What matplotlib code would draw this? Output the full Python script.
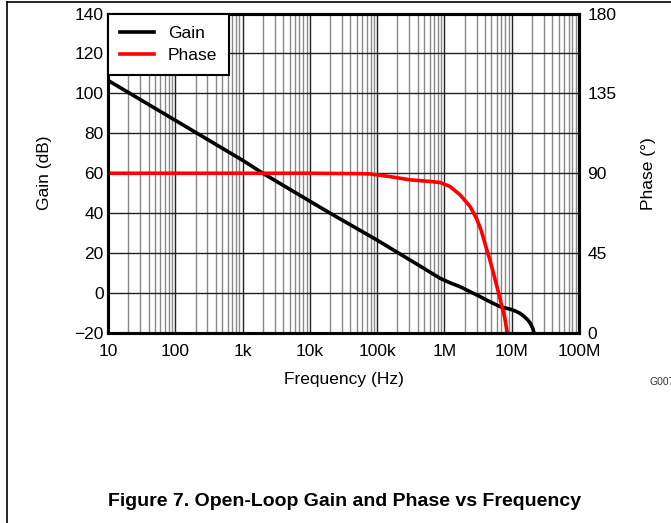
import numpy as np
import matplotlib.pyplot as plt
from matplotlib.lines import Line2D
from matplotlib.ticker import LogLocator, FixedLocator, NullFormatter

plt.rcParams['font.family'] = ['Liberation Sans', 'DejaVu Sans']

# data
gain_freq = [10, 100, 1e3, 2e3, 1e4, 2e4, 1e5, 4.3e5, 8.6e5, 1.2e6, 1.7e6, 2.4e6, 3.4e6, 4.7e6,
             6.7e6, 8e6, 9.6e6, 1.13e7, 1.32e7, 1.5e7, 1.74e7, 1.9e7, 2.06e7, 2.15e7]
gain_db = [106.5, 86.5, 66.5, 60, 46, 40, 26.5, 13.6, 7.4, 5.2, 3.2, 0.7, -1.8, -4.3,
           -6.8, -7.5, -8.1, -9.0, -10.1, -11.5, -13.5, -15.3, -17.7, -20]

phase_freq = [10, 1e4, 5e4, 7.8e4, 1.55e5, 3.06e5, 6e5, 8.6e5, 1.2e6, 1.7e6, 2.4e6, 3e6,
              3.5e6, 4e6, 4.74e6, 5.5e6, 6.3e6, 7e6, 7.9e6, 8.6e6]
phase_deg = [90, 90, 89.8, 89.6, 88.1, 86.3, 85.4, 84.8, 82.6, 77.9, 71.3, 64.5,
             58, 50.5, 41.1, 32, 23.4, 16.5, 8.4, 0]

xticks = [10, 100, 1e3, 1e4, 1e5, 1e6, 1e7, 1e8]
xtick_labels = ['10', '100', '1k', '10k', '100k', '1M', '10M', '100M']
gain_ticks = [-20, 0, 20, 40, 60, 80, 100, 120, 140]
phase_ticks = [0, 45, 90, 135, 180]

fs = 12.5

fig = plt.figure(figsize=(6.71, 5.23), dpi=100)
ax = fig.add_axes([108/671, 1-333/523, (579-108)/671, (333-13.5)/523])
ax2 = ax.twinx()

ax.set_xscale('log')
ax.set_xlim(10, 1e8)
ax.set_ylim(-20, 140)
ax2.set_ylim(0, 180)

ax.xaxis.set_major_locator(FixedLocator(xticks))
ax.set_xticklabels(xtick_labels)
ax.xaxis.set_minor_locator(LogLocator(base=10, subs=np.arange(2, 10)))
ax.xaxis.set_minor_formatter(NullFormatter())
ax.set_yticks(gain_ticks)
ax2.set_yticks(phase_ticks)

ax.grid(True, which='major', color='#222222', linewidth=1.0)
ax.grid(True, which='minor', axis='x', color='#888888', linewidth=1.0)
ax.set_axisbelow(True)

for a in (ax, ax2):
    a.tick_params(which='both', length=0, labelsize=fs, pad=3)
    for s in a.spines.values():
        s.set_linewidth(2.2)
ax.tick_params(axis='x', pad=8)
ax2.tick_params(pad=6)

l1, = ax.plot(gain_freq, gain_db, color='black', linewidth=2.6, label='Gain')
l2, = ax2.plot(phase_freq, phase_deg, color='#ff0000', linewidth=2.6, label='Phase')

leg = ax2.legend([l1, l2], ['Gain', 'Phase'], loc='upper left', fontsize=fs,
                 frameon=True, fancybox=False, framealpha=1, edgecolor='black',
                 borderaxespad=0, handlelength=1.95, handletextpad=0.8,
                 borderpad=0.7, labelspacing=0.4)
leg.get_frame().set_linewidth(1.5)

ax.set_xlabel('Frequency (Hz)', fontsize=fs, labelpad=9)
ax.set_ylabel('Gain (dB)', fontsize=fs, labelpad=16)
ax2.set_ylabel('Phase (°)', fontsize=fs, labelpad=18)

fig.text(650/671, 1-382/523, 'G007', fontsize=7.5, ha='left', va='center', color='#333333')
fig.text(345/671, 1-501/523, 'Figure 7. Open-Loop Gain and Phase vs Frequency',
         fontsize=14, fontweight='bold', ha='center', va='center')

# page frame lines
fig.add_artist(Line2D([6.5/671, 6.5/671], [0, 1-1.5/523], color='black', linewidth=1.2))
fig.add_artist(Line2D([6.5/671, 1], [1-1.5/523, 1-1.5/523], color='black', linewidth=1.2))

fig.savefig('out.png', dpi=100)
